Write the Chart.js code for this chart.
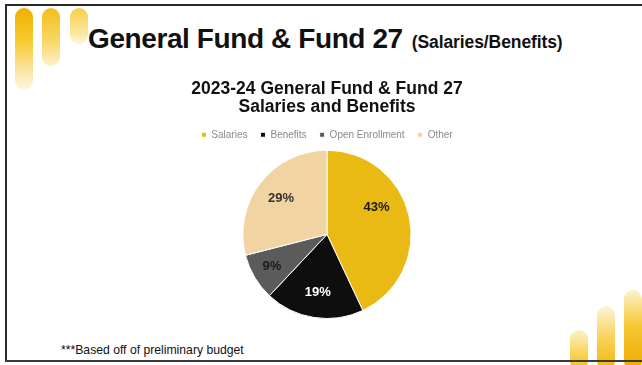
<!DOCTYPE html>
<html>
<head>
<meta charset="utf-8">
<script src="https://cdn.jsdelivr.net/npm/chart.js@4.4.1/dist/chart.umd.min.js"></script>
<style>
  html, body { margin: 0; padding: 0; background: #fff; }
  #slide { position: relative; width: 642px; height: 365px; overflow: hidden; background: #fff; font-family: "Liberation Sans", Arial, sans-serif; }
  #chart { position: absolute; left: 0; top: 0; }
  .frame-top { position: absolute; left: 5px; right: 0; top: 4px; height: 2px; background: #2a2a2a; }
  .frame-left { position: absolute; left: 5px; top: 4px; bottom: 3px; width: 2px; background: #2a2a2a; }
  .frame-bottom { position: absolute; left: 5px; right: 0; bottom: 3px; height: 2px; background: #3a3a3a; }
  .bar { position: absolute; width: 18px; border-radius: 9px; }
  #heading { position: absolute; left: 88px; top: 23px; font-weight: bold; font-size: 28px; line-height: 32px; color: #111; white-space: nowrap; letter-spacing: -0.4px; }
  #heading span { font-size: 17.5px; margin-left: 9px; letter-spacing: -0.1px; }
  #note { position: absolute; left: 61px; top: 343px; font-size: 12.2px; color: #111; white-space: nowrap; }
</style>
</head>
<body>
<div id="slide">
  <div class="bar" style="left:15px; top:8px; height:82px; background:linear-gradient(#f0b000, #f6cb30 40%, #fae3a0 75%, #fff7e4);"></div>
  <div class="bar" style="left:42px; top:8px; height:58px; background:linear-gradient(#f3be1c, #f8d662 55%, #fdf0cc);"></div>
  <div class="bar" style="left:70px; top:8px; height:36px; background:linear-gradient(#f7cf4a, #fbe6a0 70%, #fff6e0);"></div>
  <div class="bar" style="left:570px; top:330px; height:40px; background:linear-gradient(#fdf1cc, #f9d65e 55%, #f3bd16);"></div>
  <div class="bar" style="left:597px; top:306px; height:64px; background:linear-gradient(#fff4d8, #f8d258 50%, #f1b60c);"></div>
  <div class="bar" style="left:624px; top:290px; height:80px; background:linear-gradient(#fff1cf, #f5c832 45%, #eeab00);"></div>
  <div class="frame-top"></div>
  <div class="frame-left"></div>
  <div class="frame-bottom"></div>
  <div id="heading">General Fund &amp; Fund 27<span>(Salaries/Benefits)</span></div>
  <div id="note">***Based off of preliminary budget</div>
  <canvas id="chart" width="642" height="365"></canvas>
</div>
<script>
// Share of 2023-24 General Fund & Fund 27 spending, in percent
const categories = ["Salaries", "Benefits", "Open Enrollment", "Other"];
const shares = [43, 19, 9, 29];
const sliceColors = ["#e9b914", "#0e0e0e", "#5b5b5b", "#f2d4a2"];
const labelColors = ["#1a1a1a", "#ffffff", "#1a1a1a", "#333333"];
const chartTitle = ["2023-24 General Fund & Fund 27", "Salaries and Benefits"];

// Where each percentage sits: fraction of the radius and a turn (degrees) off the slice middle
const labelPlacement = [
  { radius: 0.67, turn: -16 },
  { radius: 0.70, turn: 0 },
  { radius: 0.76, turn: 0 },
  { radius: 0.69, turn: 0 }
];

// Writes each slice's percentage inside the slice
const sliceLabels = {
  id: "sliceLabels",
  afterDatasetsDraw(chart) {
    const ctx = chart.ctx;
    const meta = chart.getDatasetMeta(0);
    ctx.save();
    ctx.font = "bold 13px 'Liberation Sans', Arial, sans-serif";
    ctx.textAlign = "center";
    ctx.textBaseline = "middle";
    meta.data.forEach((arc, i) => {
      const place = labelPlacement[i];
      const mid = (arc.startAngle + arc.endAngle) / 2 + place.turn * Math.PI / 180;
      const r = arc.outerRadius * place.radius;
      ctx.fillStyle = labelColors[i];
      ctx.fillText(shares[i] + "%", arc.x + Math.cos(mid) * r, arc.y + Math.sin(mid) * r);
    });
    ctx.restore();
  }
};

new Chart(document.getElementById("chart"), {
  type: "pie",
  data: {
    labels: categories,
    datasets: [{
      data: shares,
      backgroundColor: sliceColors,
      borderColor: "#ffffff",
      borderWidth: 1
    }]
  },
  options: {
    responsive: false,
    animation: false,
    layout: { padding: { top: 80, bottom: 46, left: 12, right: 0 } },
    plugins: {
      title: {
        display: true,
        text: chartTitle,
        color: "#111",
        font: { family: "'Liberation Sans', Arial, sans-serif", size: 17.5, weight: "bold", lineHeight: 1.05 },
        padding: { top: 0, bottom: 0 }
      },
      legend: {
        position: "top",
        labels: {
          color: "#8a8a8a",
          boxWidth: 5,
          boxHeight: 5,
          padding: 13,
          font: { family: "'Liberation Sans', Arial, sans-serif", size: 10 }
        }
      },
      tooltip: { enabled: false }
    }
  },
  plugins: [sliceLabels]
});
</script>
</body>
</html>
